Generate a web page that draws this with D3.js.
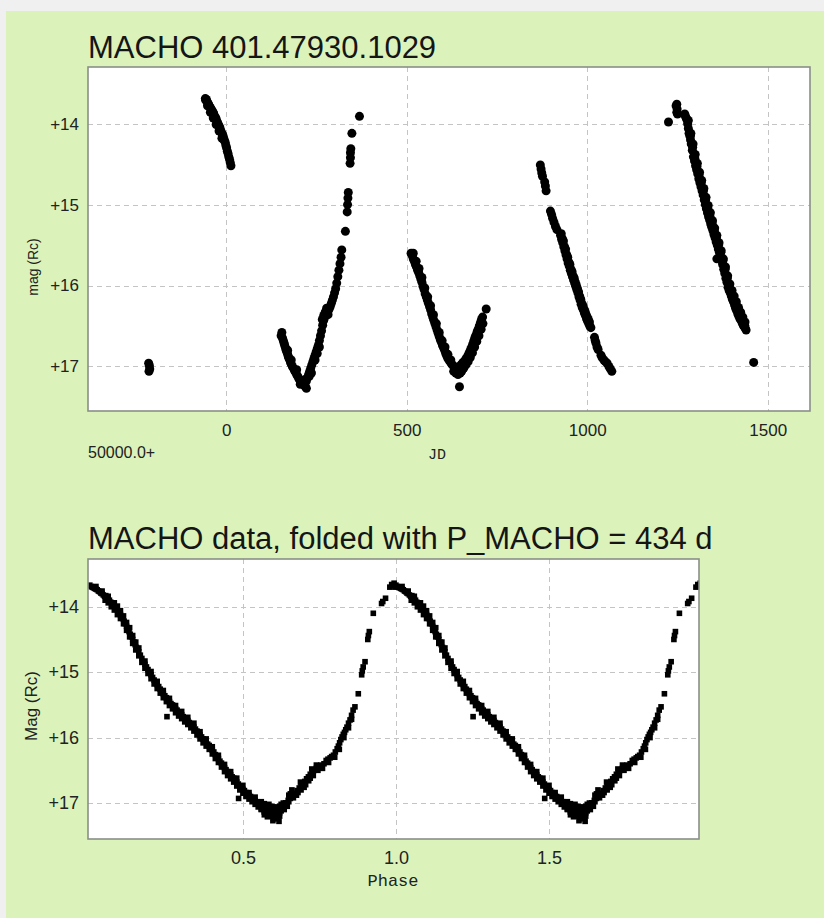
<!DOCTYPE html>
<html><head><meta charset="utf-8">
<script src="https://cdn.jsdelivr.net/npm/d3@7"></script>
<style>body{margin:0;background:#f0f0f0;} svg{display:block}</style>
</head><body>
<svg id="c" width="824" height="918"></svg>
<script>
// ---------- DATA (JD - 50000, magnitude Rc) ----------
const season1 = [[-215,16.96],[-213,16.99],[-212,17.03],[-214,17.06]];
const season2 = [[-58,13.69],[-57,13.71],[-55,13.70],[-53,13.73],[-51,13.75],[-49,13.76],[-47,13.78],[-45,13.80],[-43,13.81],[-41,13.83],[-39,13.84],[-37,13.86],[-35,13.87],[-33,13.90],[-31,13.92],[-29,13.93],[-27,13.96],[-25,13.98],[-23,14.00],[-21,14.02],[-19,14.04],[-17,14.06],[-15,14.09],[-13,14.11],[-11,14.13],[-9,14.15],[-7,14.18],[-5,14.21],[-3,14.23],[-1,14.27],[1,14.30],[3,14.34],[5,14.37],[7,14.41],[9,14.44],[11,14.48],[13,14.52],[-52,13.78],[-44,13.86],[-36,13.93],[-28,14.01],[-20,14.09],[-12,14.18]];
const season3 = [[152,16.62],[154,16.58],[156,16.65],[158,16.68],[160,16.71],[162,16.74],[164,16.77],[166,16.80],[168,16.82],[170,16.85],[172,16.88],[174,16.90],[176,16.92],[178,16.95],[180,16.97],[183,17.00],[186,17.02],[189,17.05],[192,17.07],[195,17.10],[198,17.12],[201,17.15],[204,17.17],[207,17.19],[210,17.20],[213,17.22],[216,17.23],[219,17.25],[222,17.27],[170,16.80],[180,16.92],[195,17.04],[205,17.22],
[218,17.16],[222,17.18],[225,17.14],[228,17.10],[230,17.12],[231,17.06],[234,17.02],[236,17.08],[237,16.98],[240,16.94],[243,16.90],[246,16.86],[246,16.92],[249,16.82],[252,16.78],[252,16.84],[255,16.74],[258,16.68],[258,16.76],[261,16.62],[264,16.56],[266,16.42],[267,16.49],[270,16.43],[270,16.37],[273,16.39],[274,16.33],[276,16.36],[278,16.28],[279,16.33],[282,16.31],[282,16.36],[285,16.29],[288,16.26],[291,16.22],[294,16.18],[297,16.14],[300,16.09],[303,16.04],[306,15.97],[309,15.89],[312,15.81],[315,15.73],[318,15.65],[320,15.56],
[330,15.33],[335,15.09],[336,15.00],[337,14.92],[338,14.85],[343,14.49],[344,14.42],[344,14.36],[345,14.31],[348,14.12],[369,13.91]];
const season4 = [[512,15.60],[515,15.63],[518,15.67],[521,15.70],[524,15.74],[527,15.77],[530,15.81],[533,15.84],[536,15.88],[539,15.92],[542,15.96],[545,16.01],[548,16.05],[551,16.10],[554,16.14],[557,16.18],[560,16.22],[563,16.26],[566,16.30],[569,16.35],[572,16.39],[575,16.43],[578,16.47],[581,16.51],[584,16.55],[587,16.59],[590,16.63],[593,16.67],[596,16.70],[599,16.74],[602,16.77],[605,16.80],[608,16.84],[611,16.87],[614,16.90],[617,16.92],[620,16.94],[623,16.96],[626,16.98],[629,16.99],[632,17.01],[635,17.02],[638,17.04],[641,17.05],[644,17.04],
[518,15.60],[526,15.70],[534,15.79],[542,15.90],[550,16.03],[558,16.14],[566,16.25],[574,16.36],[582,16.47],[590,16.58],[598,16.68],[606,16.76],[614,16.85],[622,16.92],[630,17.06],[636,17.08],[642,17.10],[648,17.08],[646,17.25],
[647,17.00],[650,16.98],[653,16.97],[656,16.95],[659,16.94],[662,16.92],[665,16.90],[668,16.88],[671,16.85],[674,16.82],[677,16.79],[680,16.76],[683,16.72],[686,16.68],[689,16.64],[692,16.61],[695,16.57],[698,16.54],[701,16.50],[704,16.46],[707,16.42],[710,16.39],[720,16.29],
[652,17.06],[658,17.02],[664,16.98],[670,16.94],[676,16.89],[682,16.83],[688,16.76],[694,16.69],[700,16.62],[706,16.54],[711,16.47]];
const season5 = [[870,14.51],[872,14.56],[874,14.61],[876,14.65],[882,14.72],[884,14.77],[886,14.83],[898,15.08],[901,15.12],[904,15.17],[908,15.22],[912,15.27],[916,15.31],
[926,15.38],[929,15.43],[932,15.47],[935,15.52],[938,15.57],[941,15.62],[944,15.67],[947,15.72],[950,15.76],[953,15.81],[956,15.85],[959,15.89],[962,15.93],[965,15.97],[968,16.01],[971,16.05],[974,16.09],[977,16.14],[980,16.18],[983,16.23],[986,16.27],[989,16.30],[992,16.34],[995,16.37],[998,16.41],[1001,16.44],[1004,16.47],[1007,16.50],[1010,16.52],
[931,15.42],[937,15.52],[943,15.62],[949,15.71],[955,15.80],[961,15.88],[967,15.96],[973,16.04],[979,16.13],[985,16.22],[991,16.29],[997,16.36],[1003,16.42],
[928,15.36],[934,15.45],[940,15.55],[946,15.65],[952,15.74],[958,15.83],[964,15.91],[970,16.00],[976,16.08],[982,16.17],[988,16.25],[994,16.32],[1000,16.39],[1006,16.45],
[1020,16.64],[1022,16.68],[1024,16.71],[1027,16.76],[1030,16.79],[1038,16.86],[1041,16.89],[1046,16.92],[1050,16.94],[1055,16.96],[1060,17.00],[1064,17.03],[1068,17.06]];
const season6 = [[1225,13.98],[1246,13.78],[1248,13.76],[1249,13.82],[1248,13.86],[1250,13.88],[1270,13.88],
[1272,13.91],[1274,13.93],[1276,13.95],[1278,14.00],[1280,14.06],[1282,14.12],[1284,14.15],[1286,14.20],[1288,14.25],[1291,14.33],[1294,14.41],[1297,14.46],[1300,14.52],[1303,14.57],[1306,14.62],[1309,14.68],[1312,14.73],[1315,14.78],[1318,14.83],[1321,14.88],[1324,14.94],[1327,15.00],[1330,15.05],[1333,15.10],[1336,15.15],[1339,15.19],[1342,15.24],[1345,15.28],[1348,15.32],[1351,15.37],[1354,15.41],[1357,15.46],[1360,15.50],[1363,15.55],[1366,15.59],[1369,15.64],[1372,15.69],[1375,15.74],[1378,15.80],[1381,15.85],[1384,15.91],[1387,15.96],[1390,16.02],[1393,16.06],[1396,16.09],[1399,16.13],[1402,16.17],[1405,16.20],[1408,16.24],[1411,16.28],[1414,16.31],[1417,16.35],[1420,16.38],[1423,16.41],[1426,16.43],[1429,16.46],[1432,16.49],[1435,16.51],[1438,16.53],[1440,16.55],
[1286,14.15],[1292,14.29],[1298,14.43],[1304,14.53],[1310,14.63],[1316,14.73],[1322,14.83],[1328,14.94],[1334,15.05],[1340,15.15],[1346,15.24],[1352,15.32],[1358,15.41],[1364,15.50],[1370,15.59],[1376,15.69],[1382,15.80],[1388,15.91],[1394,16.02],[1400,16.09],[1406,16.17],[1412,16.24],[1418,16.31],[1424,16.38],[1430,16.43],[1436,16.49],
[1280,13.96],[1287,14.12],[1293,14.25],[1299,14.38],[1305,14.49],[1311,14.60],[1317,14.70],[1323,14.80],[1329,14.91],[1335,15.01],[1341,15.10],[1347,15.20],[1353,15.29],[1359,15.38],[1365,15.47],[1371,15.57],[1377,15.67],[1383,15.77],[1389,15.88],[1395,15.98],[1401,16.06],[1407,16.13],[1413,16.20],[1419,16.27],[1425,16.33],[1431,16.39],[1437,16.45],
[1359,15.67],[1461,16.95]];

// ---------- folded data (phase, mag), one cycle; drawn twice ----------
const foldDescending = [[0.000,13.67],[0.004,13.69],[0.008,13.70],[0.012,13.71],[0.016,13.72],[0.020,13.73],[0.024,13.74],[0.028,13.76],[0.032,13.77],[0.036,13.79],[0.040,13.80],[0.044,13.82],[0.048,13.84],[0.052,13.83],[0.056,13.87],[0.060,13.88],[0.064,13.90],[0.068,13.93],[0.072,13.94],[0.076,13.97],[0.080,13.99],[0.084,14.01],[0.088,14.04],[0.092,14.07],[0.096,14.10],[0.100,14.12],[0.104,14.15],[0.108,14.18],[0.112,14.22],[0.116,14.26],[0.120,14.30],[0.124,14.34],[0.128,14.38],[0.132,14.42],[0.136,14.46],[0.140,14.50],[0.144,14.54],[0.148,14.58],[0.152,14.62],[0.156,14.65],[0.160,14.69],[0.165,14.74],[0.170,14.79],[0.175,14.84],[0.180,14.88],[0.185,14.92],[0.190,14.96],[0.195,15.00],[0.200,15.04],[0.205,15.08],[0.210,15.12],[0.215,15.15],[0.220,15.19],[0.225,15.22],[0.230,15.26],[0.235,15.29],[0.240,15.33],[0.245,15.36],[0.250,15.39],[0.255,15.42],[0.260,15.45],[0.265,15.48],[0.270,15.50],[0.275,15.53],[0.280,15.56],[0.285,15.58],[0.290,15.61],[0.295,15.63],[0.300,15.65],[0.305,15.68],[0.310,15.70],[0.315,15.72],[0.320,15.74],[0.325,15.77],[0.330,15.79],[0.335,15.82],[0.340,15.84],[0.345,15.87],[0.350,15.90],[0.355,15.93],[0.360,15.96],[0.365,15.99],[0.370,16.02],[0.375,16.04],[0.380,16.07],[0.385,16.10],[0.390,16.12],[0.395,16.16],[0.400,16.19],[0.405,16.22],[0.410,16.26],[0.415,16.29],[0.420,16.32],[0.425,16.36],[0.430,16.39],[0.435,16.42],[0.440,16.46],[0.445,16.49],[0.450,16.52],[0.455,16.54],[0.460,16.57],[0.465,16.60],[0.470,16.62],[0.475,16.65],[0.480,16.68],[0.485,16.71],[0.490,16.74],[0.495,16.76],[0.500,16.79],[0.505,16.81],[0.510,16.84],[0.515,16.86],[0.520,16.88],[0.525,16.90],[0.530,16.92],[0.535,16.94],[0.540,16.96],[0.545,16.98],[0.550,17.00],[0.555,17.01],[0.560,17.03],[0.565,17.05],[0.570,17.06],[0.575,17.07],[0.580,17.09],[0.585,17.10],[0.590,17.11],[0.595,17.12],[0.600,17.13]];
const foldScatter = [[0.05,13.90],[0.06,13.94],[0.07,14.00],[0.08,14.05],[0.09,14.12],[0.10,14.18],[0.11,14.26],[0.12,14.36],[0.13,14.46],[0.14,14.56],[0.15,14.66],[0.16,14.75],[0.17,14.85],[0.18,14.94],[0.19,15.02],[0.20,15.10],[0.21,15.18],[0.22,15.25],[0.23,15.32],[0.24,15.39],[0.25,15.45],[0.26,15.51],[0.27,15.56],[0.28,15.62],[0.29,15.67],[0.30,15.71],[0.31,15.76],[0.32,15.80],[0.33,15.85],[0.34,15.90],[0.35,15.96],[0.36,16.02],[0.37,16.08],[0.38,16.13],[0.39,16.18],[0.40,16.25],[0.41,16.32],[0.42,16.38],[0.43,16.45],[0.44,16.52],[0.45,16.58],[0.46,16.63],[0.47,16.68],[0.48,16.74],[0.49,16.80],[0.50,16.85],[0.51,16.90],[0.52,16.94],[0.53,16.98],[0.54,17.02],[0.55,17.06],[0.56,17.09],[0.57,17.12],[0.58,17.15],[0.59,17.17],
[0.10,14.06],[0.12,14.24],[0.13,14.32],[0.14,14.44],[0.34,15.78],[0.36,15.91],[0.38,16.02],[0.40,16.14],[0.42,16.27],[0.44,16.41],[0.46,16.52],[0.48,16.62],[0.50,16.73],[0.52,16.84],[0.54,16.91],[0.56,16.98],
[0.02,13.69],[0.04,13.76],[0.06,13.84],[0.08,13.94],[0.09,13.99],[0.11,14.14],[0.15,14.54],[0.16,14.63],[0.18,14.83],[0.20,14.99],[0.22,15.14],[0.24,15.28],[0.26,15.40],[0.28,15.51],[0.30,15.60],[0.32,15.69],[0.57,17.01],[0.58,17.03],
[0.252,15.68],[0.486,16.93]];
const foldMinimum = [[0.560,17.10],[0.570,17.14],[0.580,17.17],[0.590,17.20],[0.600,17.18],[0.605,17.22],[0.610,17.16],[0.615,17.24],[0.620,17.20],[0.625,17.12],[0.630,17.08],[0.635,17.04],[0.640,17.00],[0.612,17.10],[0.595,17.05],[0.585,17.02],[0.605,17.08],[0.620,17.05],[0.632,17.00],
[0.570,17.18],[0.580,17.21],[0.590,17.16],[0.600,17.24],[0.610,17.20],[0.620,17.15],[0.615,17.06],[0.625,17.02],[0.600,17.06],[0.590,17.08],[0.575,17.12],[0.565,17.08],[0.635,17.10],[0.645,17.05],[0.650,16.98],[0.598,17.27],[0.618,17.28]];
const foldRise = [[0.625,17.08],[0.632,17.04],[0.640,17.00],[0.648,16.96],[0.655,16.93],[0.662,16.89],[0.670,16.85],[0.677,16.81],[0.684,16.77],[0.690,16.74],[0.696,16.71],[0.702,16.67],[0.708,16.63],[0.714,16.60],[0.720,16.56],[0.727,16.53],[0.733,16.50],[0.740,16.47],[0.745,16.46],[0.750,16.44],[0.755,16.42],[0.772,16.35],[0.778,16.33],[0.790,16.29],[0.796,16.27],[0.802,16.22],[0.808,16.17],[0.812,16.13],[0.816,16.08],[0.820,16.03],[0.824,15.99],[0.828,15.95],[0.832,15.92],[0.836,15.88],[0.840,15.84],[0.845,15.78],[0.850,15.73],[0.855,15.66],[0.860,15.58],
[0.650,16.88],[0.665,16.92],[0.680,16.84],[0.700,16.76],[0.715,16.66],[0.660,16.80],[0.688,16.68],
[0.655,16.86],[0.675,16.88],[0.690,16.80],[0.705,16.72],[0.720,16.62],[0.730,16.58],[0.745,16.50],[0.760,16.47],[0.765,16.40],[0.780,16.38],[0.785,16.31],[0.800,16.30],[0.815,16.18],[0.830,16.00],[0.845,15.85],[0.855,15.72],[0.740,16.42],[0.725,16.48],
[0.866,15.53],[0.877,15.33],[0.888,15.04],[0.890,14.98],[0.893,14.92],[0.899,14.84],[0.908,14.50],[0.910,14.44],[0.913,14.38],[0.926,14.10],[0.953,13.95],[0.957,13.92],[0.966,13.87],[0.980,13.70],[0.986,13.66],[0.990,13.68],[0.994,13.64],[0.997,13.70]];

const jdTicks = [0, 500, 1000, 1500];
const magTicks = [14, 15, 16, 17];
const phaseTicks = [0.5, 1.0, 1.5];

// ---------- DRAWING ----------
const svg = d3.select("#c");
svg.append("rect").attr("x",6).attr("y",11).attr("width",818).attr("height",907).attr("fill","#dbf3bb");

const x1 = d3.scaleLinear().domain([-383,1617]).range([88,810]);
const y1 = d3.scaleLinear().domain([13.30,17.55]).range([67,411]);
const x2 = d3.scaleLinear().domain([-0.006,1.99]).range([88,699]);
const y2 = d3.scaleLinear().domain([13.27,17.55]).range([559,839]);

function panel(id, x, y, xt, yt) {
  const [l, r] = x.range(), [t, b] = y.range();
  const g = svg.append("g");
  g.append("rect").attr("x",l).attr("y",t).attr("width",r-l).attr("height",b-t).attr("fill","#fff");
  g.append("clipPath").attr("id",id).append("rect").attr("x",l).attr("y",t).attr("width",r-l).attr("height",b-t);
  g.selectAll(".vg").data(xt).join("line")
    .attr("x1",d=>Math.round(x(d))+0.5).attr("x2",d=>Math.round(x(d))+0.5)
    .attr("y1",t).attr("y2",b)
    .attr("stroke","#c4c4c4").attr("stroke-dasharray","5,4");
  g.selectAll(".hg").data(yt).join("line")
    .attr("y1",d=>Math.round(y(d))+0.5).attr("y2",d=>Math.round(y(d))+0.5)
    .attr("x1",l).attr("x2",r)
    .attr("stroke","#c4c4c4").attr("stroke-dasharray","5,4");
  const pts = g.append("g").attr("clip-path",`url(#${id})`);
  return {g, pts, l, r, t, b};
}

function border(p) {
  p.g.append("rect").attr("x",p.l).attr("y",p.t).attr("width",p.r-p.l).attr("height",p.b-p.t)
    .attr("fill","none").attr("stroke","#8a8f88").attr("stroke-width",1.6);
}

// top panel
const p1 = panel("clipTop", x1, y1, jdTicks, magTicks);
const allSeasons = [season1, season2, season3, season4, season5, season6].flat();
p1.pts.selectAll("circle").data(allSeasons).join("circle")
  .attr("cx",d=>x1(d[0])).attr("cy",d=>y1(d[1])).attr("r",4.5).attr("fill","#000");
border(p1);

const yAx1 = p1.g.append("g").attr("transform",`translate(${p1.l},0)`)
  .call(d3.axisLeft(y1).tickValues(magTicks).tickFormat(d=>"+"+d).tickSize(0).tickPadding(9));
const xAx1 = p1.g.append("g").attr("transform",`translate(0,${p1.b})`)
  .call(d3.axisBottom(x1).tickValues(jdTicks).tickFormat(d3.format("d")).tickSize(0).tickPadding(13));
[yAx1, xAx1].forEach(a => { a.select(".domain").remove();
  a.selectAll("text").attr("font-family","Liberation Sans, Arial, sans-serif").attr("font-size",17).attr("fill","#222"); });

svg.append("text").attr("x",88).attr("y",58).text("MACHO 401.47930.1029")
  .attr("font-family","Liberation Sans, Arial, sans-serif").attr("font-size",31).attr("fill","#151515");
svg.append("text").attr("x",88).attr("y",458).text("50000.0+")
  .attr("font-family","Liberation Sans, Arial, sans-serif").attr("font-size",16).attr("fill","#222");
svg.append("text").attr("x",437).attr("y",459).attr("text-anchor","middle").text("JD")
  .attr("font-family","Liberation Mono, monospace").attr("font-size",15).attr("fill","#222");
svg.append("text").attr("transform","translate(33,267) rotate(-90)").attr("text-anchor","middle")
  .attr("dominant-baseline","central").text("mag (Rc)")
  .attr("font-family","Liberation Sans, Arial, sans-serif").attr("font-size",14).attr("fill","#222");

// bottom panel
const p2 = panel("clipBottom", x2, y2, phaseTicks, magTicks);
const oneCycle = [foldDescending, foldScatter, foldMinimum, foldRise].flat();
const twoCycles = oneCycle.flatMap(d => [[d[0], d[1]], [d[0] + 1, d[1]]]);
p2.pts.selectAll("rect").data(twoCycles).join("rect")
  .attr("x",d=>x2(d[0])-2.8).attr("y",d=>y2(d[1])-2.8).attr("width",5.6).attr("height",5.6).attr("fill","#000");
border(p2);

const yAx2 = p2.g.append("g").attr("transform",`translate(${p2.l},0)`)
  .call(d3.axisLeft(y2).tickValues(magTicks).tickFormat(d=>"+"+d).tickSize(0).tickPadding(9));
const xAx2 = p2.g.append("g").attr("transform",`translate(0,${p2.b})`)
  .call(d3.axisBottom(x2).tickValues(phaseTicks).tickFormat(d3.format(".1f")).tickSize(0).tickPadding(12));
[yAx2, xAx2].forEach(a => { a.select(".domain").remove();
  a.selectAll("text").attr("font-family","Liberation Sans, Arial, sans-serif").attr("font-size",18).attr("fill","#222"); });

svg.append("text").attr("x",88).attr("y",549).text("MACHO data, folded with P_MACHO = 434 d")
  .attr("font-family","Liberation Sans, Arial, sans-serif").attr("font-size",31).attr("fill","#151515");
svg.append("text").attr("x",393).attr("y",886).attr("text-anchor","middle").text("Phase")
  .attr("font-family","Liberation Mono, monospace").attr("font-size",17).attr("fill","#222");
svg.append("text").attr("transform","translate(31,706) rotate(-90)").attr("text-anchor","middle")
  .attr("dominant-baseline","central").text("Mag (Rc)")
  .attr("font-family","Liberation Sans, Arial, sans-serif").attr("font-size",17).attr("fill","#222");
</script>
</body></html>
